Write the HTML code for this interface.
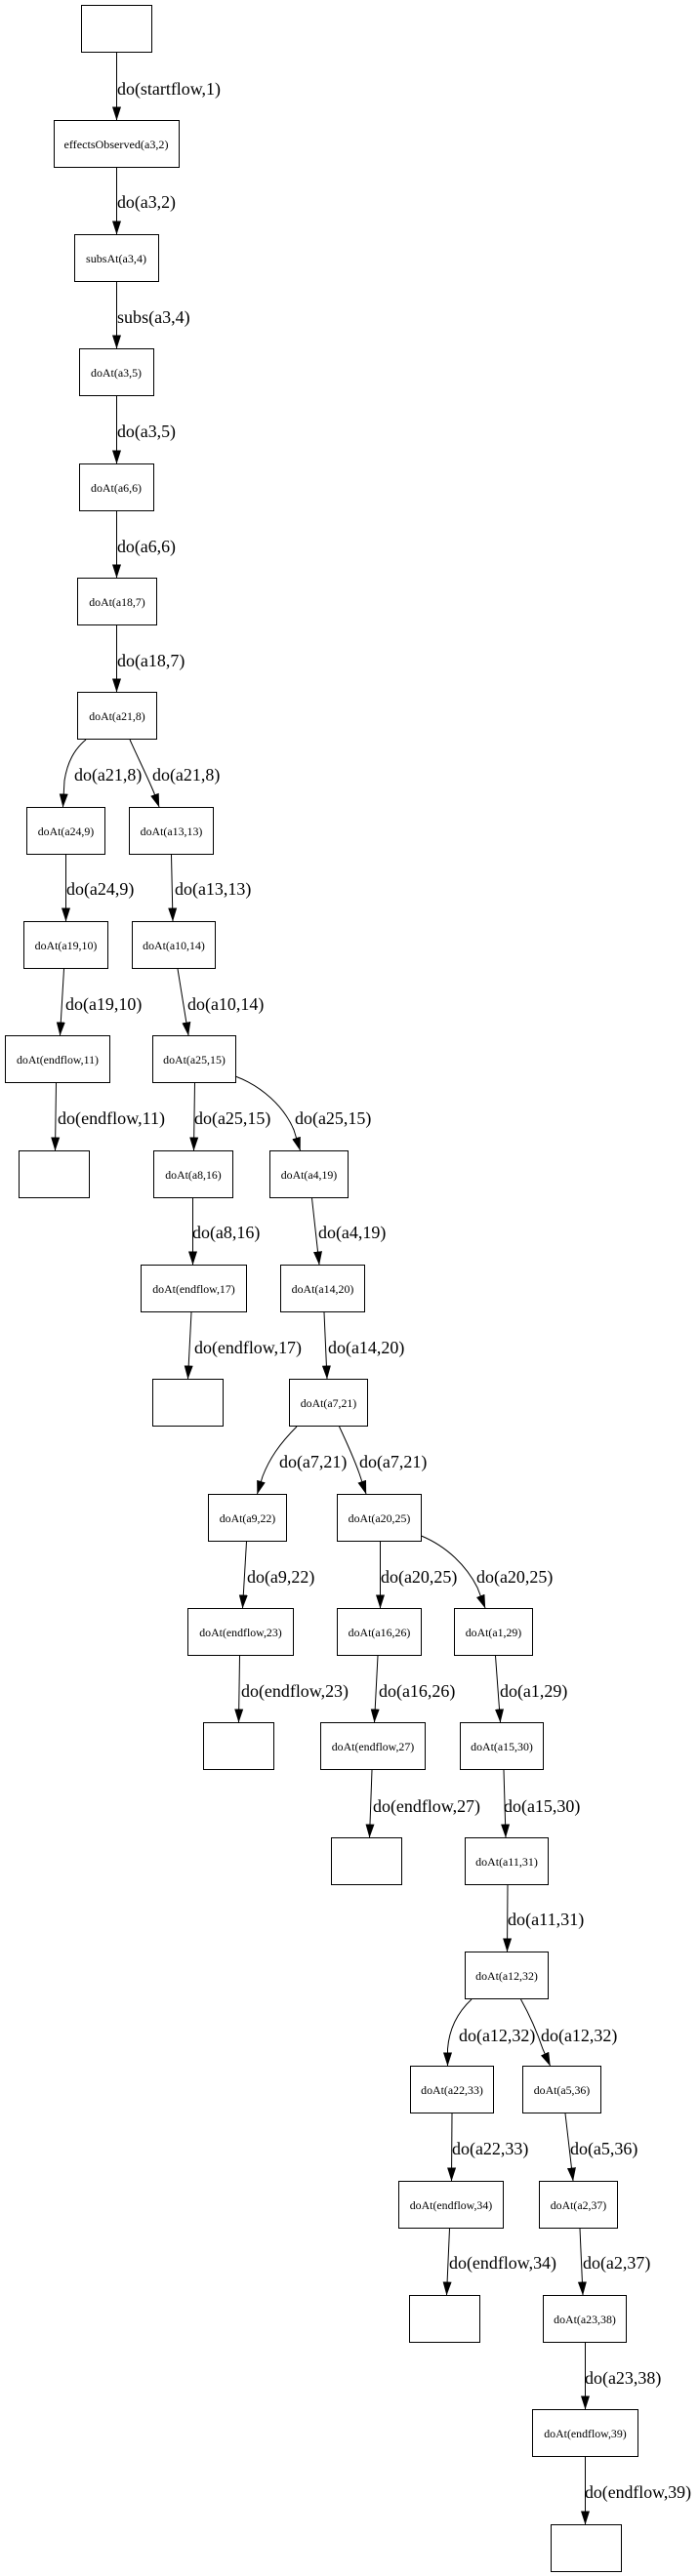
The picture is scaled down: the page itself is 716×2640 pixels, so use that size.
<!DOCTYPE html>
<html>
<head>
<meta charset="utf-8">
<style>
  html, body { margin: 0; padding: 0; background: #fff; }
  body { width: 716px; height: 2640px; overflow: hidden; }
  svg { display: block; }
  .n { fill: #fff; stroke: #000; stroke-width: 1; }
  .e { fill: none; stroke: #000; stroke-width: 1; marker-end: url(#ah); }
  .nl { font-family: "Liberation Serif", serif; font-size: 11.5px; text-anchor: middle; fill: #000; }
  .el { font-family: "Liberation Serif", serif; font-size: 18px; fill: #000; }
</style>
</head>
<body>
<svg width="716" height="2640" viewBox="0 0 716 2640" xmlns="http://www.w3.org/2000/svg">
  <defs>
    <marker id="ah" markerUnits="userSpaceOnUse" markerWidth="14" markerHeight="10" viewBox="0 0 14 10" refX="13.5" refY="5" orient="auto">
      <path d="M0,0.5 L14,5 L0,9.5 z" fill="#000"/>
    </marker>
  </defs>

  <!-- Nodes -->
  <rect class="n" x="83.5" y="5.5" width="72" height="48"/>
  <rect class="n" x="55.5" y="123.5" width="128" height="48"/>
  <text class="nl" x="119" y="152" textLength="107" lengthAdjust="spacingAndGlyphs">effectsObserved(a3,2)</text>
  <rect class="n" x="76.5" y="240.5" width="86" height="48"/>
  <text class="nl" x="119" y="269" textLength="62" lengthAdjust="spacingAndGlyphs">subsAt(a3,4)</text>
  <rect class="n" x="81.5" y="357.5" width="76" height="48"/>
  <text class="nl" x="119" y="386" textLength="52" lengthAdjust="spacingAndGlyphs">doAt(a3,5)</text>
  <rect class="n" x="81.5" y="475.5" width="76" height="48"/>
  <text class="nl" x="119" y="504" textLength="52" lengthAdjust="spacingAndGlyphs">doAt(a6,6)</text>
  <rect class="n" x="79.5" y="592.5" width="81" height="48"/>
  <text class="nl" x="120" y="621" textLength="57.5" lengthAdjust="spacingAndGlyphs">doAt(a18,7)</text>
  <rect class="n" x="79.5" y="709.5" width="81" height="48"/>
  <text class="nl" x="120" y="738" textLength="57.5" lengthAdjust="spacingAndGlyphs">doAt(a21,8)</text>

  <rect class="n" x="27.5" y="827.5" width="80" height="48"/>
  <text class="nl" x="67.5" y="856" textLength="57.5" lengthAdjust="spacingAndGlyphs">doAt(a24,9)</text>
  <rect class="n" x="132.5" y="827.5" width="86" height="48"/>
  <text class="nl" x="175.5" y="856" textLength="63.7" lengthAdjust="spacingAndGlyphs">doAt(a13,13)</text>

  <rect class="n" x="24.5" y="944.5" width="86" height="48"/>
  <text class="nl" x="67.5" y="973" textLength="63.7" lengthAdjust="spacingAndGlyphs">doAt(a19,10)</text>
  <rect class="n" x="135.5" y="944.5" width="85" height="48"/>
  <text class="nl" x="178" y="973" textLength="63.7" lengthAdjust="spacingAndGlyphs">doAt(a10,14)</text>

  <rect class="n" x="5.5" y="1061.5" width="107" height="48"/>
  <text class="nl" x="59" y="1090" textLength="84" lengthAdjust="spacingAndGlyphs">doAt(endflow,11)</text>
  <rect class="n" x="156.5" y="1061.5" width="85" height="48"/>
  <text class="nl" x="199" y="1090" textLength="63.7" lengthAdjust="spacingAndGlyphs">doAt(a25,15)</text>

  <rect class="n" x="19.5" y="1179.5" width="72" height="48"/>
  <rect class="n" x="157.5" y="1179.5" width="81" height="48"/>
  <text class="nl" x="198" y="1208" textLength="57.5" lengthAdjust="spacingAndGlyphs">doAt(a8,16)</text>
  <rect class="n" x="276.5" y="1179.5" width="80" height="48"/>
  <text class="nl" x="316.5" y="1208" textLength="57.5" lengthAdjust="spacingAndGlyphs">doAt(a4,19)</text>

  <rect class="n" x="144.5" y="1296.5" width="108" height="48"/>
  <text class="nl" x="198.5" y="1325" textLength="84.5" lengthAdjust="spacingAndGlyphs">doAt(endflow,17)</text>
  <rect class="n" x="287.5" y="1296.5" width="86" height="48"/>
  <text class="nl" x="330.5" y="1325" textLength="63.7" lengthAdjust="spacingAndGlyphs">doAt(a14,20)</text>

  <rect class="n" x="156.5" y="1413.5" width="72" height="48"/>
  <rect class="n" x="296.5" y="1413.5" width="80" height="48"/>
  <text class="nl" x="336.5" y="1442" textLength="57.5" lengthAdjust="spacingAndGlyphs">doAt(a7,21)</text>

  <rect class="n" x="213.5" y="1531.5" width="80" height="48"/>
  <text class="nl" x="253.5" y="1560" textLength="57.5" lengthAdjust="spacingAndGlyphs">doAt(a9,22)</text>
  <rect class="n" x="345.5" y="1531.5" width="86" height="48"/>
  <text class="nl" x="388.5" y="1560" textLength="63.7" lengthAdjust="spacingAndGlyphs">doAt(a20,25)</text>

  <rect class="n" x="192.5" y="1648.5" width="108" height="48"/>
  <text class="nl" x="246.5" y="1677" textLength="84.5" lengthAdjust="spacingAndGlyphs">doAt(endflow,23)</text>
  <rect class="n" x="345.5" y="1648.5" width="86" height="48"/>
  <text class="nl" x="388.5" y="1677" textLength="63.7" lengthAdjust="spacingAndGlyphs">doAt(a16,26)</text>
  <rect class="n" x="465.5" y="1648.5" width="80" height="48"/>
  <text class="nl" x="505.5" y="1677" textLength="57.5" lengthAdjust="spacingAndGlyphs">doAt(a1,29)</text>

  <rect class="n" x="208.5" y="1765.5" width="72" height="48"/>
  <rect class="n" x="328.5" y="1765.5" width="107" height="48"/>
  <text class="nl" x="382" y="1794" textLength="84.5" lengthAdjust="spacingAndGlyphs">doAt(endflow,27)</text>
  <rect class="n" x="471.5" y="1765.5" width="85" height="48"/>
  <text class="nl" x="514" y="1794" textLength="63.7" lengthAdjust="spacingAndGlyphs">doAt(a15,30)</text>

  <rect class="n" x="339.5" y="1883.5" width="72" height="48"/>
  <rect class="n" x="476.5" y="1883.5" width="85" height="48"/>
  <text class="nl" x="519" y="1912" textLength="63.7" lengthAdjust="spacingAndGlyphs">doAt(a11,31)</text>

  <rect class="n" x="476.5" y="2000.5" width="85" height="48"/>
  <text class="nl" x="519" y="2029" textLength="63.7" lengthAdjust="spacingAndGlyphs">doAt(a12,32)</text>

  <rect class="n" x="420.5" y="2117.5" width="85" height="48"/>
  <text class="nl" x="463" y="2146" textLength="63.7" lengthAdjust="spacingAndGlyphs">doAt(a22,33)</text>
  <rect class="n" x="535.5" y="2117.5" width="80" height="48"/>
  <text class="nl" x="575.5" y="2146" textLength="57.5" lengthAdjust="spacingAndGlyphs">doAt(a5,36)</text>

  <rect class="n" x="408.5" y="2235.5" width="107" height="48"/>
  <text class="nl" x="462" y="2264" textLength="84.5" lengthAdjust="spacingAndGlyphs">doAt(endflow,34)</text>
  <rect class="n" x="552.5" y="2235.5" width="80" height="48"/>
  <text class="nl" x="592.5" y="2264" textLength="57.5" lengthAdjust="spacingAndGlyphs">doAt(a2,37)</text>

  <rect class="n" x="419.5" y="2352.5" width="72" height="48"/>
  <rect class="n" x="556.5" y="2352.5" width="85" height="48"/>
  <text class="nl" x="599" y="2381" textLength="63.7" lengthAdjust="spacingAndGlyphs">doAt(a23,38)</text>

  <rect class="n" x="545.5" y="2469.5" width="108" height="48"/>
  <text class="nl" x="599.5" y="2498" textLength="84.5" lengthAdjust="spacingAndGlyphs">doAt(endflow,39)</text>

  <rect class="n" x="564.5" y="2587.5" width="72" height="48"/>

  <!-- Edges -->
  <path class="e" d="M119.5,54 L119.5,123"/>
  <path class="e" d="M119.5,172 L119.5,240"/>
  <path class="e" d="M119.5,289 L119.5,357"/>
  <path class="e" d="M119.5,406 L119.5,475"/>
  <path class="e" d="M119.5,524 L119.5,592"/>
  <path class="e" d="M119.5,641 L119.5,709"/>
  <path class="e" d="M88,758 C76,768 69,781 66,800 L64.5,827"/>
  <path class="e" d="M133,758 C141,776 151,796 158,813 L163,827"/>
  <path class="e" d="M67.5,876 L67.5,944"/>
  <path class="e" d="M175.5,876 L177,944"/>
  <path class="e" d="M65.5,993 L61.5,1061"/>
  <path class="e" d="M182,993 L193,1061"/>
  <path class="e" d="M57.5,1110 L56.5,1179"/>
  <path class="e" d="M199.5,1110 L198.5,1179"/>
  <path class="e" d="M241,1103 C268,1113 291,1134 301,1158 L307.5,1179"/>
  <path class="e" d="M197.5,1228 L197.5,1296"/>
  <path class="e" d="M319.5,1228 L327,1296"/>
  <path class="e" d="M196,1345 L192.5,1413"/>
  <path class="e" d="M332,1345 L335,1413"/>
  <path class="e" d="M304,1462 C286,1480 276,1495 269,1513 L263.5,1531"/>
  <path class="e" d="M347.5,1462 C355,1478 362,1493 368,1510 L375,1531"/>
  <path class="e" d="M252.5,1580 L248.5,1648"/>
  <path class="e" d="M389.5,1580 L389.5,1648"/>
  <path class="e" d="M431.5,1574 C458,1585 478,1605 489,1627 L497,1648"/>
  <path class="e" d="M245.5,1697 L244.5,1765"/>
  <path class="e" d="M387,1697 L383.5,1765"/>
  <path class="e" d="M507.5,1697 L512.5,1765"/>
  <path class="e" d="M381,1814 L378.5,1883"/>
  <path class="e" d="M516,1814 L518,1883"/>
  <path class="e" d="M520,1932 L519.5,2000"/>
  <path class="e" d="M483,2049 C468,2063 460,2080 458.5,2100 L458.5,2117"/>
  <path class="e" d="M533.5,2049 C543,2066 551,2085 556,2100 L563.5,2117"/>
  <path class="e" d="M463,2166 L462.5,2235"/>
  <path class="e" d="M579,2166 L587,2235"/>
  <path class="e" d="M460.5,2284 L457.5,2352"/>
  <path class="e" d="M594,2284 L597,2352"/>
  <path class="e" d="M599.5,2401 L599.5,2469"/>
  <path class="e" d="M599.5,2518 L599.5,2587"/>

  <!-- Edge labels -->
  <text class="el" x="120" y="97" textLength="106" lengthAdjust="spacingAndGlyphs">do(startflow,1)</text>
  <text class="el" x="120" y="213" textLength="60" lengthAdjust="spacingAndGlyphs">do(a3,2)</text>
  <text class="el" x="120" y="331" textLength="74.7" lengthAdjust="spacingAndGlyphs">subs(a3,4)</text>
  <text class="el" x="120" y="448" textLength="60" lengthAdjust="spacingAndGlyphs">do(a3,5)</text>
  <text class="el" x="120" y="566" textLength="60" lengthAdjust="spacingAndGlyphs">do(a6,6)</text>
  <text class="el" x="120" y="683" textLength="69.3" lengthAdjust="spacingAndGlyphs">do(a18,7)</text>
  <text class="el" x="76" y="800" textLength="69.3" lengthAdjust="spacingAndGlyphs">do(a21,8)</text>
  <text class="el" x="156" y="800" textLength="69.3" lengthAdjust="spacingAndGlyphs">do(a21,8)</text>
  <text class="el" x="68" y="917" textLength="69.3" lengthAdjust="spacingAndGlyphs">do(a24,9)</text>
  <text class="el" x="179" y="917" textLength="78.3" lengthAdjust="spacingAndGlyphs">do(a13,13)</text>
  <text class="el" x="67" y="1035" textLength="78.3" lengthAdjust="spacingAndGlyphs">do(a19,10)</text>
  <text class="el" x="192" y="1035" textLength="78.3" lengthAdjust="spacingAndGlyphs">do(a10,14)</text>
  <text class="el" x="59" y="1152" textLength="110" lengthAdjust="spacingAndGlyphs">do(endflow,11)</text>
  <text class="el" x="199" y="1152" textLength="78.3" lengthAdjust="spacingAndGlyphs">do(a25,15)</text>
  <text class="el" x="302" y="1152" textLength="78.3" lengthAdjust="spacingAndGlyphs">do(a25,15)</text>
  <text class="el" x="197" y="1269" textLength="69.3" lengthAdjust="spacingAndGlyphs">do(a8,16)</text>
  <text class="el" x="326" y="1269" textLength="69.3" lengthAdjust="spacingAndGlyphs">do(a4,19)</text>
  <text class="el" x="199" y="1387" textLength="110" lengthAdjust="spacingAndGlyphs">do(endflow,17)</text>
  <text class="el" x="336" y="1387" textLength="78.3" lengthAdjust="spacingAndGlyphs">do(a14,20)</text>
  <text class="el" x="286" y="1504" textLength="69.3" lengthAdjust="spacingAndGlyphs">do(a7,21)</text>
  <text class="el" x="368" y="1504" textLength="69.3" lengthAdjust="spacingAndGlyphs">do(a7,21)</text>
  <text class="el" x="253" y="1622" textLength="69.3" lengthAdjust="spacingAndGlyphs">do(a9,22)</text>
  <text class="el" x="390" y="1622" textLength="78.3" lengthAdjust="spacingAndGlyphs">do(a20,25)</text>
  <text class="el" x="488" y="1622" textLength="78.3" lengthAdjust="spacingAndGlyphs">do(a20,25)</text>
  <text class="el" x="247" y="1739" textLength="110" lengthAdjust="spacingAndGlyphs">do(endflow,23)</text>
  <text class="el" x="388" y="1739" textLength="78.3" lengthAdjust="spacingAndGlyphs">do(a16,26)</text>
  <text class="el" x="512" y="1739" textLength="69.3" lengthAdjust="spacingAndGlyphs">do(a1,29)</text>
  <text class="el" x="382" y="1857" textLength="110" lengthAdjust="spacingAndGlyphs">do(endflow,27)</text>
  <text class="el" x="516" y="1857" textLength="78.3" lengthAdjust="spacingAndGlyphs">do(a15,30)</text>
  <text class="el" x="520" y="1973" textLength="78.3" lengthAdjust="spacingAndGlyphs">do(a11,31)</text>
  <text class="el" x="470" y="2092" textLength="78.3" lengthAdjust="spacingAndGlyphs">do(a12,32)</text>
  <text class="el" x="554" y="2092" textLength="78.3" lengthAdjust="spacingAndGlyphs">do(a12,32)</text>
  <text class="el" x="463" y="2208" textLength="78.3" lengthAdjust="spacingAndGlyphs">do(a22,33)</text>
  <text class="el" x="584" y="2208" textLength="69.3" lengthAdjust="spacingAndGlyphs">do(a5,36)</text>
  <text class="el" x="460" y="2325" textLength="110" lengthAdjust="spacingAndGlyphs">do(endflow,34)</text>
  <text class="el" x="597" y="2325" textLength="69.3" lengthAdjust="spacingAndGlyphs">do(a2,37)</text>
  <text class="el" x="599" y="2443" textLength="78.3" lengthAdjust="spacingAndGlyphs">do(a23,38)</text>
  <text class="el" x="599" y="2560" textLength="109" lengthAdjust="spacingAndGlyphs">do(endflow,39)</text>
</svg>
</body>
</html>
